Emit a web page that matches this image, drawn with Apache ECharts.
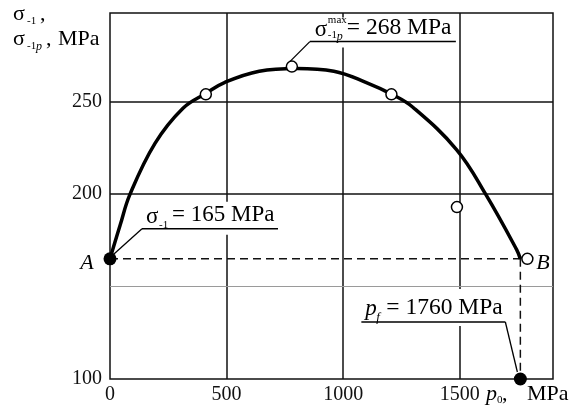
<!DOCTYPE html>
<html>
<head>
<meta charset="utf-8">
<script src="https://cdn.jsdelivr.net/npm/echarts@6/dist/echarts.min.js"></script>
<style>
  html, body { margin: 0; padding: 0; background: #fff; }
  #chart { width: 570px; height: 406px; }
</style>
</head>
<body>
<div id="chart"></div>
<script>
// Tick labels shown on the axes
const xTickLabels = [0, 500, 1000, 1500];
const yTickLabels = [100, 200, 250];
// Grid lines inside the frame
const xGridLines = [500, 1000, 1500];
const yGridDark = [200, 250];
const yGridLight = [150];

// Endurance limit under internal pressure, sigma_-1p vs p0 (fitted curve)
const curveP = [0, 43, 86, 193, 313, 411, 493, 640, 800, 960, 1097, 1209, 1299, 1487, 1611, 1744, 1760];
const curveS = [165, 183, 200, 227.5, 246.5, 254.5, 260.5, 266.5, 268, 266.5, 260.5, 254, 247, 224, 200, 170, 165];

// Test results (open circles)
const testP = [411, 780, 1207, 1488, 1790];
const testS = [254, 269, 254, 193, 165];

// Key values
const sigmaFatigue = 165;   // point A, sigma_-1
const sigmaMax = 268;       // maximum of the curve
const sigmaMaxP = 780;      // test point at the maximum
const pFail = 1760;         // p_f
const pointBP = 1790;       // point B

const serif = '"Liberation Serif", "Times New Roman", serif';
const ink = '#111';

const chart = echarts.init(document.getElementById('chart'), null, { renderer: 'canvas' });

const option = {
  animation: false,
  grid: {
    left: 110, right: 17, top: 13, bottom: 27,
    show: true, borderColor: ink, borderWidth: 1.5, backgroundColor: 'transparent'
  },
  xAxis: {
    type: 'value', min: 0, max: 1900, interval: 500,
    axisLine: { show: false }, axisTick: { show: false }, splitLine: { show: false },
    axisLabel: {
      fontFamily: serif, fontSize: 20, color: ink, margin: 6,
      formatter: v => xTickLabels.includes(v) ? String(v) : ''
    }
  },
  yAxis: {
    type: 'value', min: 100, max: 298, interval: 50,
    axisLine: { show: false }, axisTick: { show: false }, splitLine: { show: false },
    axisLabel: {
      fontFamily: serif, fontSize: 20, color: ink, margin: 8,
      formatter: v => yTickLabels.includes(v) ? String(v) : ''
    }
  },
  series: [
    {
      // grid lines
      type: 'line', data: [], silent: true,
      markLine: {
        z: 1, silent: true, symbol: 'none', animation: false,
        label: { show: false },
        data: [
          ...xGridLines.map(v => ({ xAxis: v, lineStyle: { color: ink, width: 1.5, type: 'solid' } })),
          ...yGridDark.map(v => ({ yAxis: v, lineStyle: { color: ink, width: 1.5, type: 'solid' } })),
          ...yGridLight.map(v => ({ yAxis: v, lineStyle: { color: '#9a9a9a', width: 1, type: 'solid' } }))
        ]
      }
    },
    {
      // A - B dashed level
      type: 'line', z: 4, showSymbol: false, silent: true,
      data: [[0, sigmaFatigue], [pointBP, sigmaFatigue]],
      lineStyle: { color: ink, width: 1.5, type: [8, 5] }
    },
    {
      // drop to p_f
      type: 'line', z: 4, showSymbol: false, silent: true,
      data: [[pFail, sigmaFatigue], [pFail, 100]],
      lineStyle: { color: ink, width: 1.5, type: [8, 5] }
    },
    {
      type: 'line', z: 5, showSymbol: false, silent: true,
      smooth: 0.4,
      data: curveP.map((p, i) => [p, curveS[i]]),
      lineStyle: { color: '#000', width: 3.5 }
    },
    {
      type: 'scatter', z: 8, silent: true,
      symbol: 'circle', symbolSize: 11,
      data: testP.map((p, i) => [p, testS[i]]),
      itemStyle: { color: '#fff', borderColor: '#000', borderWidth: 1.5, opacity: 1 }
    },
    {
      type: 'scatter', z: 8, silent: true,
      symbol: 'circle', symbolSize: 13,
      data: [[0, sigmaFatigue], [pFail, 100]],
      itemStyle: { color: '#000', opacity: 1 }
    }
  ]
};
chart.setOption(option);

// ---- annotations, placed from the converted data positions ----
const px = (p, s) => chart.convertToPixel({ gridIndex: 0 }, [p, s]);
const font = (size, italic) => (italic ? 'italic ' : '') + size + 'px ' + serif;

function text(x, y, str, size, italic, align) {
  return {
    type: 'text', x: x, y: y, z: 20, silent: true,
    style: { text: str, font: font(size, italic), fill: '#000',
             textAlign: align || 'left', textVerticalAlign: 'middle' }
  };
}
function line(x1, y1, x2, y2, w) {
  return { type: 'line', z: 20, silent: true,
           shape: { x1: x1, y1: y1, x2: x2, y2: y2 },
           style: { stroke: '#000', lineWidth: w || 1.3 } };
}
function box(x, y, w, h) {
  return { type: 'rect', z: 3, silent: true,
           shape: { x: x, y: y, width: w, height: h },
           style: { fill: '#fff' } };
}

const els = [];

// sigma_-1 = 165 MPa at A
const a = px(0, sigmaFatigue);
els.push(box(a[0] + 30, a[1] - 57, 140, 33));
els.push(line(a[0] + 2, a[1] - 3, a[0] + 32, a[1] - 30));
els.push(line(a[0] + 32, a[1] - 30, a[0] + 168, a[1] - 30, 1.5));
els.push(text(a[0] + 36, a[1] - 42, 'σ', 23));
els.push(text(a[0] + 49, a[1] - 34, '-1', 11));
els.push(text(a[0] + 62, a[1] - 44, '= ' + sigmaFatigue + ' MPa', 23));
els.push(text(a[0] - 23, a[1] + 4, 'A', 22, true, 'center'));

// sigma_-1p max = 268 MPa
const m = px(sigmaMaxP, 269);
els.push(box(m[0] + 20, m[1] - 49, 145, 30));
els.push(line(m[0] - 2, m[1] - 5, m[0] + 18, m[1] - 25));
els.push(line(m[0] + 18, m[1] - 25, m[0] + 164, m[1] - 25, 1.5));
els.push(text(m[0] + 23, m[1] - 37, 'σ', 23));
els.push(text(m[0] + 36, m[1] - 46, 'max', 11));
els.push(text(m[0] + 36, m[1] - 31, '-1', 11));
els.push(text(m[0] + 45, m[1] - 30, 'p', 12, true));
els.push(text(m[0] + 55, m[1] - 39, '= ' + sigmaMax + ' MPa', 23.5));

// point B
const b = px(pointBP, sigmaFatigue);
els.push(text(b[0] + 9, b[1] + 4, 'B', 22, true));

// p_f = 1760 MPa
const f = px(pFail, 100);
els.push(box(f[0] - 161, f[1] - 90, 150, 37));
els.push(line(f[0] - 15, f[1] - 57, f[0] - 3, f[1] - 7));
els.push(line(f[0] - 159, f[1] - 57, f[0] - 15, f[1] - 57, 1.5));
els.push(text(f[0] - 155, f[1] - 70, 'p', 23, true));
els.push(text(f[0] - 144, f[1] - 61, 'f', 13, true));
els.push(text(f[0] - 134, f[1] - 71, '= ' + pFail + ' MPa', 23.5));

// x-axis name p0, MPa
const xe = px(1900, 100);
els.push(text(xe[0] - 67, xe[1] + 15, 'p', 22, true));
els.push(text(xe[0] - 56, xe[1] + 21, '0', 11));
els.push(text(xe[0] - 51, xe[1] + 15, ',', 22));
els.push(text(xe[0] - 26, xe[1] + 15, 'MPa', 22));

// y-axis name
els.push(text(13, 14, 'σ', 22));
els.push(text(27, 21, '-1', 11));
els.push(text(40, 14, ',', 22));
els.push(text(13, 39, 'σ', 22));
els.push(text(27, 46, '-1', 11));
els.push(text(36, 47, 'p', 12, true));
els.push(text(46, 39, ',', 22));
els.push(text(58, 39, 'MPa', 22));

chart.setOption({ graphic: { elements: els } });
</script>
</body>
</html>
